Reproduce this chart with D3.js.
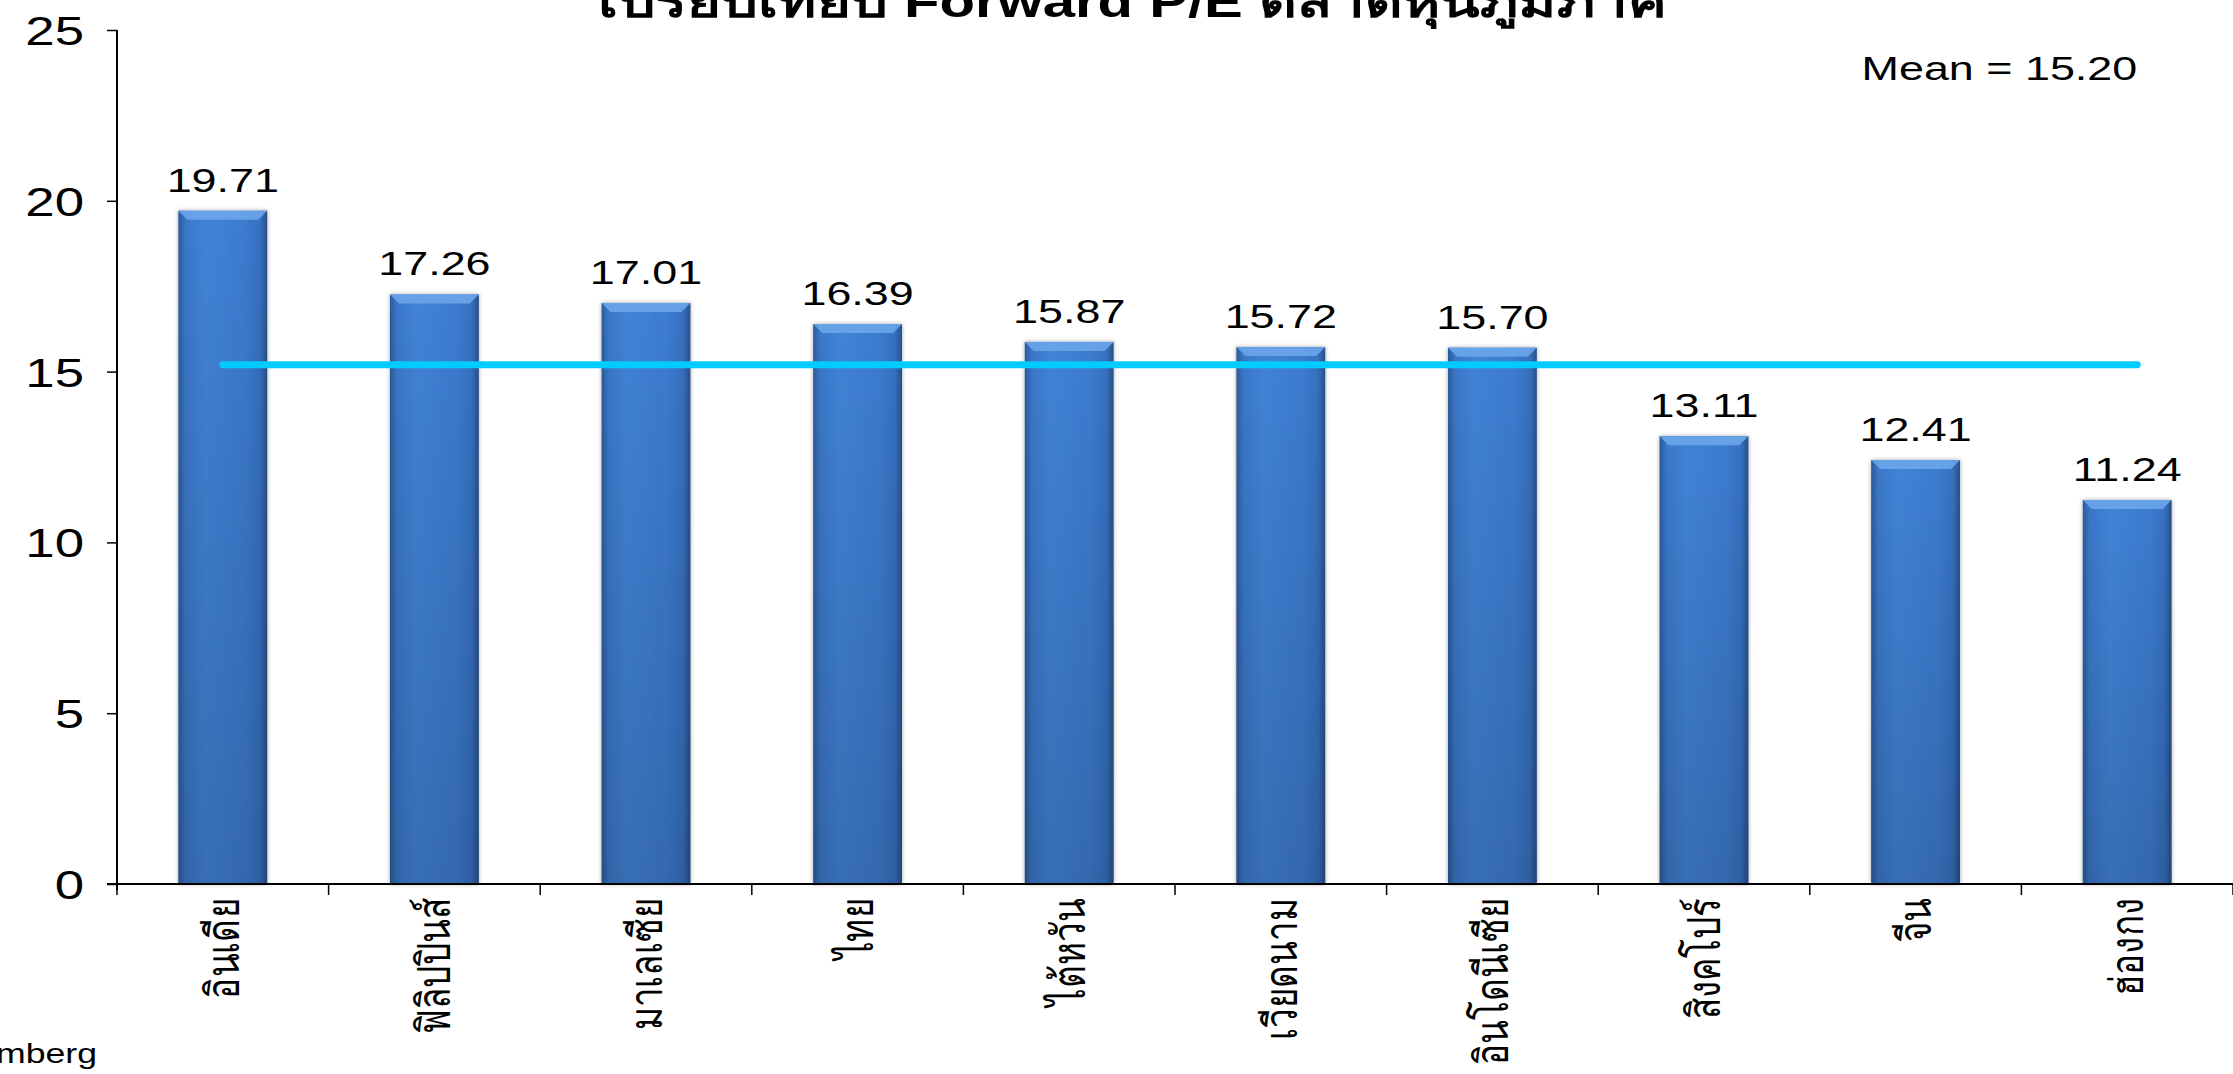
<!DOCTYPE html>
<html>
<head>
<meta charset="utf-8">
<script src="https://cdn.jsdelivr.net/npm/d3@7"></script>
<style>
  body { margin: 0; background: #fff; }
  text { font-family: "Liberation Sans", Arial, sans-serif; fill: #000; }
</style>
</head>
<body>
<svg width="2233" height="1074"></svg>
<script>
var countries = ["อินเดีย", "ฟิลิปปินส์", "มาเลเซีย", "ไทย", "ไต้หวัน", "เวียดนาม", "อินโดนีเซีย", "สิงคโปร์", "จีน", "ฮ่องกง"];
var peValues = [19.71, 17.26, 17.01, 16.39, 15.87, 15.72, 15.70, 13.11, 12.41, 11.24];
var yTicks = [0, 5, 10, 15, 20, 25];
var meanValue = 15.20;
var title = "เปรียบเทียบ Forward P/E ตลาดหุ้นภูมิภาค";
var source = "Source: Bloomberg";

var data = countries.map(function(c, i) { return { name: c, value: peValues[i] }; });

var svg = d3.select("svg"),
  stretch = 1.32,
  plotLeft = 117, plotRight = 2233, plotTop = 30, plotBottom = 884;

var x = d3.scaleBand().domain(countries).range([plotLeft, plotRight]).padding(0),
  y = d3.scaleLinear().domain([0, 25]).range([plotBottom, plotTop]);

var barW = x.bandwidth() * 0.42;

var defs = svg.append("defs");
var hg = defs.append("linearGradient").attr("id", "barH");
hg.append("stop").attr("offset", "0%").attr("stop-color", "#2b5a98");
hg.append("stop").attr("offset", "8%").attr("stop-color", "#3a77c8");
hg.append("stop").attr("offset", "30%").attr("stop-color", "#4283d6");
hg.append("stop").attr("offset", "75%").attr("stop-color", "#3c7bcf");
hg.append("stop").attr("offset", "92%").attr("stop-color", "#3670bf");
hg.append("stop").attr("offset", "100%").attr("stop-color", "#284f88");

var vg = defs.append("linearGradient").attr("id", "barV")
  .attr("x1", 0).attr("y1", 0).attr("x2", 0).attr("y2", 1);
vg.append("stop").attr("offset", "0%").attr("stop-color", "#000").attr("stop-opacity", 0);
vg.append("stop").attr("offset", "100%").attr("stop-color", "#000").attr("stop-opacity", 0.16);

var sh = defs.append("filter").attr("id", "shadow").attr("x", "-20%").attr("width", "140%");
sh.append("feDropShadow").attr("dx", 0).attr("dy", 0).attr("stdDeviation", 2)
  .attr("flood-color", "#000").attr("flood-opacity", 0.35);

// bars
var bars = svg.append("g").selectAll("g.bar")
  .data(data)
  .enter().append("g")
  .attr("class", "bar");

bars.append("rect")
  .attr("x", function(d) { return x(d.name) + (x.bandwidth() - barW) / 2; })
  .attr("y", function(d) { return y(d.value); })
  .attr("width", barW)
  .attr("height", function(d) { return plotBottom - y(d.value); })
  .attr("fill", "url(#barH)")
  .attr("filter", "url(#shadow)");

bars.append("rect")
  .attr("x", function(d) { return x(d.name) + (x.bandwidth() - barW) / 2; })
  .attr("y", function(d) { return y(d.value); })
  .attr("width", barW)
  .attr("height", function(d) { return plotBottom - y(d.value); })
  .attr("fill", "url(#barV)");

// top bevel
bars.append("path")
  .attr("d", function(d) {
    var x0 = x(d.name) + (x.bandwidth() - barW) / 2, x1 = x0 + barW, t = y(d.value), b = 9;
    return "M" + x0 + "," + t + "L" + x1 + "," + t + "L" + (x1 - b) + "," + (t + b) +
      "L" + (x0 + b) + "," + (t + b) + "Z";
  })
  .attr("fill", "#6ea8ec")
  .attr("opacity", 0.85);

// value labels
bars.append("text")
  .attr("transform", function(d) {
    return "translate(" + (x(d.name) + x.bandwidth() / 2) + "," + (y(d.value) - 19) + ") scale(" + stretch + ",1)";
  })
  .attr("text-anchor", "middle")
  .attr("font-size", 34)
  .text(function(d) { return d.value.toFixed(2); });

// y axis
var yAxis = svg.append("g")
  .attr("transform", "translate(" + plotLeft + ",0)")
  .call(d3.axisLeft(y).tickValues(yTicks).tickSize(10).tickSizeOuter(0));
yAxis.select(".domain").attr("stroke", "#000").attr("stroke-width", 2)
  .attr("d", "M0," + plotTop + "V" + (plotBottom + 6));
yAxis.selectAll(".tick line").attr("stroke", "#000").attr("stroke-width", 1.5);
yAxis.selectAll(".tick text")
  .attr("x", -25)
  .attr("dy", "0.36em")
  .attr("transform", "scale(" + stretch + ",1)")
  .attr("font-size", 40)
  .attr("font-family", "Liberation Sans, Arial, sans-serif")
  .attr("fill", "#000");

// x axis
var xAxis = svg.append("g")
  .attr("transform", "translate(0," + plotBottom + ")")
  .call(d3.axisBottom(x).tickSize(0).tickSizeOuter(0));
xAxis.select(".domain").attr("stroke", "#000").attr("stroke-width", 2)
  .attr("d", "M" + (plotLeft - 10) + ",0H" + plotRight);
xAxis.selectAll(".tick text")
  .attr("y", 0)
  .attr("x", 0)
  .attr("dy", 0)
  .attr("text-anchor", "end")
  .attr("dominant-baseline", "central")
  .attr("transform", "translate(0,14) scale(" + stretch + ",1) rotate(-90)")
  .attr("font-size", 35)
  .attr("font-family", "Liberation Sans, Noto Sans, sans-serif")
  .attr("fill", "#000");

// boundary ticks between categories
var bounds = countries.map(function(c) { return x(c); }).concat([plotRight]);
svg.append("g").selectAll("line")
  .data(bounds)
  .enter().append("line")
  .attr("x1", function(d) { return d; })
  .attr("x2", function(d) { return d; })
  .attr("y1", plotBottom)
  .attr("y2", plotBottom + 11)
  .attr("stroke", "#000")
  .attr("stroke-width", 1.5);

// mean line
var meanEnd = x(countries[countries.length - 1]) + x.bandwidth() / 2 + 10;
svg.append("line")
  .attr("x1", x(countries[0]) + x.bandwidth() / 2)
  .attr("x2", meanEnd)
  .attr("y1", y(meanValue))
  .attr("y2", y(meanValue))
  .attr("stroke", "#00ccff")
  .attr("stroke-width", 7)
  .attr("stroke-linecap", "round");

svg.append("text")
  .attr("transform", "translate(" + meanEnd + ",80) scale(" + stretch + ",1)")
  .attr("text-anchor", "end")
  .attr("font-size", 34)
  .text("Mean = " + meanValue.toFixed(2));

// title
svg.append("text")
  .attr("transform", "translate(1132,17) scale(" + stretch + ",1)")
  .attr("text-anchor", "middle")
  .attr("font-size", 44)
  .attr("font-weight", "bold")
  .text(title);

// source
svg.append("text")
  .attr("transform", "translate(97,1063) scale(" + stretch + ",1)")
  .attr("text-anchor", "end")
  .attr("font-size", 27)
  .attr("font-family", "Open Sans, sans-serif")
  .text(source);
</script>
</body>
</html>
